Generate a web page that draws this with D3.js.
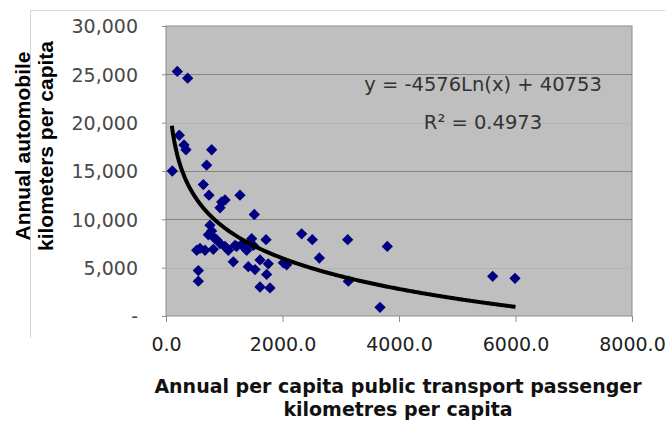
<!DOCTYPE html>
<html><head><meta charset="utf-8">
<script src="https://cdn.jsdelivr.net/npm/d3@7"></script>
<style>body{margin:0;background:#fff;}svg{display:block;}</style>
</head><body>
<svg id="chart" width="665" height="428"></svg>
<script>
// ---- data ----
const transportKm = [194,372,228,309,343,784,108,698,641,738,956,1013,927,1270,1516,755,784,727,870,841,584,527,670,812,1013,1070,1213,1356,1471,1500,1717,1155,1413,1528,1614,1756,1728,555,555,1614,1785,2014,2071,2329,2512,2632,3119,3130,3674,3799,5608,5991,927,1185,1299,1385,1041];
const autoKm = [25300,24600,18700,17700,17200,17200,15000,15600,13600,12500,11800,12000,11200,12500,10500,9400,8800,8400,7900,8000,7000,6800,6800,6900,7200,6800,7200,7000,8000,7300,7900,5600,5100,4800,5800,5400,4300,4700,3600,3000,2900,5500,5300,8500,7900,6000,7900,3600,900,7200,4100,3900,7500,7300,7400,6800,7000];
const xTicks = [0,2000,4000,6000,8000];
const yTicks = [0,5000,10000,15000,20000,25000,30000];
const trendSlope = -4576, trendIntercept = 40753, trendFrom = 100, trendTo = 6000;
const equationLines = ["y = -4576Ln(x) + 40753", "R² = 0.4973"];
const yTitleLines = ["Annual automobile", "kilometers per capita"];
const xTitleLines = ["Annual per capita public transport passenger", "kilometres per capita"];

// ---- layout ----
const svg = d3.select("#chart");
const L = 166, R = 632, T = 26, B = 316;
const x = d3.scaleLinear().domain([0, 8000]).range([L, R]);
const y = d3.scaleLinear().domain([0, 30000]).range([B, T]);

// chart area border (light)
svg.append("line").attr("x1",30.5).attr("x2",30.5).attr("y1",10).attr("y2",338).attr("stroke","#d6d6d6");
svg.append("line").attr("x1",30).attr("x2",665).attr("y1",10.5).attr("y2",10.5).attr("stroke","#d6d6d6");

// plot background
svg.append("rect").attr("x",L).attr("y",T).attr("width",R-L).attr("height",B-T)
  .attr("fill","#bfbfbf").attr("stroke","#8c8c8c").attr("stroke-width",1);

// gridlines
const faint = new Set([5000, 20000]);
svg.append("g").selectAll("line").data(yTicks.filter(v => v>0 && v<30000)).join("line")
  .attr("x1",L).attr("x2",R)
  .attr("y1",d=>Math.round(y(d))+0.5).attr("y2",d=>Math.round(y(d))+0.5)
  .attr("stroke",d=>faint.has(d)?"#b4b4b4":"#858585").attr("stroke-width",1);

// y axis
const yAxis = d3.axisLeft(y).tickValues(yTicks).tickSize(4).tickPadding(24)
  .tickFormat(d => d===0 ? "-" : d3.format(",")(d));
const gy = svg.append("g").attr("transform",`translate(${L},0)`).call(yAxis);
gy.select(".domain").remove();
gy.selectAll(".tick line").attr("stroke","#8c8c8c");
gy.selectAll(".tick text").attr("font-family","DejaVu Sans").attr("font-size",19).attr("fill","#484848")
  .attr("x",-28).attr("dy","0.36em");

// x axis
const xAxis = d3.axisBottom(x).tickValues(xTicks).tickSize(6).tickFormat(d3.format(".1f"));
const gx = svg.append("g").attr("transform",`translate(0,${B})`).call(xAxis);
gx.select(".domain").remove();
gx.selectAll(".tick line").attr("stroke","#8c8c8c");
gx.selectAll(".tick text").attr("font-family","DejaVu Sans").attr("font-size",19).attr("fill","#222")
  .attr("y",22).attr("dy","0.71em");

// points
const pts = transportKm.map((v,i)=>({x:v, y:autoKm[i]}));
const diamond = d3.symbol().type(d3.symbolSquare).size(64);
svg.append("g").selectAll("path").data(pts).join("path")
  .attr("d", diamond)
  .attr("transform", d=>`translate(${x(d.x)},${y(d.y)}) rotate(45)`)
  .attr("fill","#000080");

// trendline (from displayed equation)
const trendX = d3.range(trendFrom, trendTo + 1, 20);
const line = d3.line().x(d=>x(d)).y(d=>y(trendSlope*Math.log(d)+trendIntercept)).curve(d3.curveLinear);
svg.append("path").datum(trendX).attr("d", line).attr("fill","none").attr("stroke","#000").attr("stroke-width",4);

// equation
svg.append("g").selectAll("text").data(equationLines).join("text")
  .attr("x",483).attr("y",(d,i)=>91+i*38).attr("text-anchor","middle")
  .attr("font-family","DejaVu Sans").attr("font-size",19.5).attr("fill","#333")
  .text(d=>d);

// y title
svg.append("g").selectAll("text").data(yTitleLines).join("text")
  .attr("transform",(d,i)=>`translate(${30+i*23},146) rotate(-90)`)
  .attr("text-anchor","middle").attr("font-family","Liberation Sans").attr("font-weight","bold")
  .attr("font-size",21).attr("fill","#000").text(d=>d);

// x title
svg.append("g").selectAll("text").data(xTitleLines).join("text")
  .attr("x",398).attr("y",(d,i)=>393+i*23).attr("text-anchor","middle")
  .attr("font-family","DejaVu Sans").attr("font-weight","bold")
  .attr("font-size",19).attr("fill","#111").text(d=>d);
</script>
</body></html>
